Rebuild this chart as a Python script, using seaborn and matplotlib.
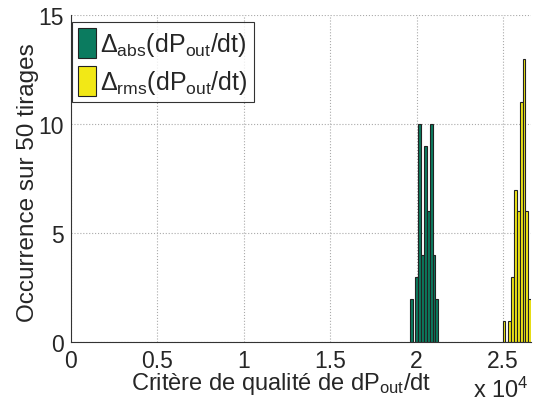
import seaborn as sns
import matplotlib.pyplot as plt
import pandas as pd
import numpy as np

# histogram counts (10 bins each, 50 draws)
abs_counts = [2, 0, 3, 10, 4, 9, 6, 10, 4, 2]
rms_counts = [1, 0, 1, 3, 7, 6, 11, 13, 6, 2]
abs_range = (19600, 21255)
rms_range = (24975, 26625)
xticks = [0, 5000, 10000, 15000, 20000, 25000]
xtick_labels = ["0", "0.5", "1", "1.5", "2", "2.5"]
yticks = [0, 5, 10, 15]

green = "#0b7b5f"
yellow = "#f2e816"

sns.set_style("white")
plt.rcParams["font.family"] = ["Liberation Sans", "DejaVu Sans"]
plt.rcParams["mathtext.fontset"] = "custom"
plt.rcParams["mathtext.rm"] = "Liberation Sans"
plt.rcParams["mathtext.it"] = "Liberation Sans"

abs_edges = list(np.linspace(abs_range[0], abs_range[1], len(abs_counts) + 1))
rms_edges = list(np.linspace(rms_range[0], rms_range[1], len(rms_counts) + 1))
df_abs = pd.DataFrame({"x": [(a + b) / 2 for a, b in zip(abs_edges[:-1], abs_edges[1:])],
                       "n": abs_counts})
df_rms = pd.DataFrame({"x": [(a + b) / 2 for a, b in zip(rms_edges[:-1], rms_edges[1:])],
                       "n": rms_counts})

fig = plt.figure(figsize=(5.36, 4.06), dpi=100)
ax = fig.add_axes([0.132, 0.154, 0.859, 0.807])

sns.histplot(data=df_abs, x="x", weights="n", bins=abs_edges, color=green,
             alpha=1, edgecolor="#222222", linewidth=0.8, ax=ax,
             label=r"$\Delta_{\mathrm{abs}}$(dP$_{\mathrm{out}}$/dt)")
sns.histplot(data=df_rms, x="x", weights="n", bins=rms_edges, color=yellow,
             alpha=1, edgecolor="#222222", linewidth=0.8, ax=ax,
             label=r"$\Delta_{\mathrm{rms}}$(dP$_{\mathrm{out}}$/dt)")

ax.set_xlim(0, rms_range[1])
ax.set_ylim(0, 15)
ax.set_xticks(xticks)
ax.set_xticklabels(xtick_labels)
ax.set_yticks(yticks)
ax.tick_params(labelsize=16.5, direction="in", length=4, color="#333333", pad=5)
ax.grid(True, linestyle=":", color="#aaaaaa", linewidth=0.8)
ax.set_axisbelow(True)
for s in ["top", "right"]:
    ax.spines[s].set_visible(False)
for s in ["left", "bottom"]:
    ax.spines[s].set_color("#333333")
    ax.spines[s].set_linewidth(0.8)

ax.set_xlabel(r"Critère de qualité de dP$_{\mathrm{out}}$/dt", fontsize=17)
ax.xaxis.set_label_coords(0.457, -0.085)
ax.set_ylabel("Occurrence sur 50 tirages", fontsize=17.5)
ax.yaxis.set_label_coords(-0.07, 0.49)
ax.text(0.995, -0.103, r"x 10$^{4}$", transform=ax.transAxes, fontsize=17,
        ha="right", va="top")

leg = ax.legend(loc="upper left", fontsize=18, frameon=True, fancybox=False,
                edgecolor="black", handlelength=0.72, handleheight=1.45,
                handletextpad=0.15, borderpad=0.25, labelspacing=0.32,
                borderaxespad=0, bbox_to_anchor=(0.003, 0.979))
leg.get_frame().set_linewidth(0.8)

fig.savefig("out.png", dpi=100)
